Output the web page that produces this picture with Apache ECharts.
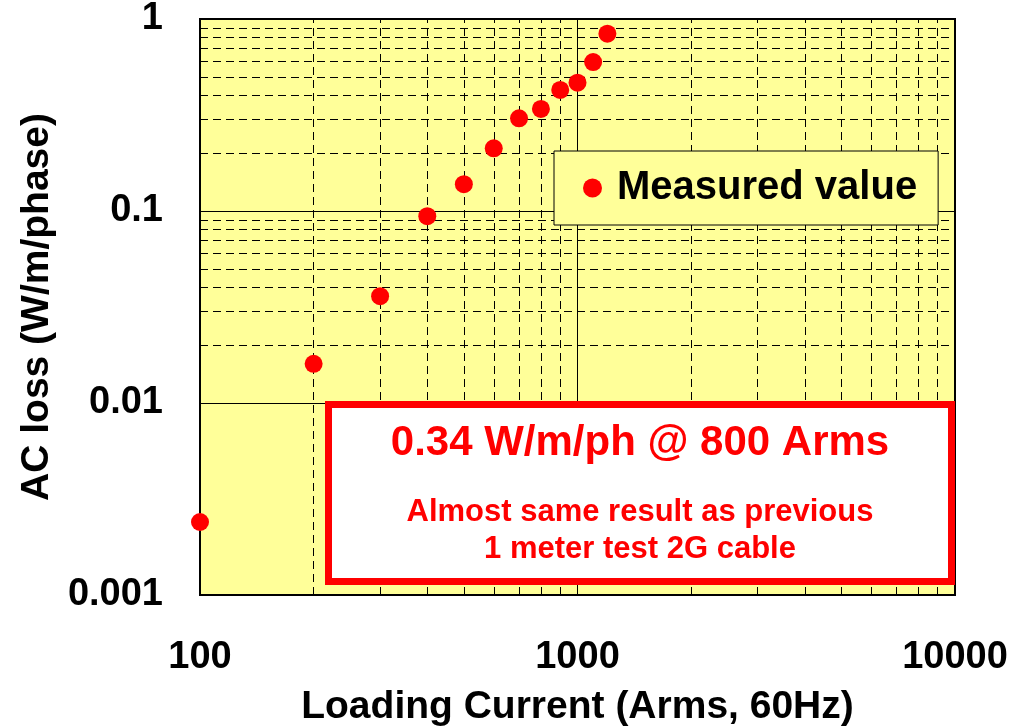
<!DOCTYPE html>
<html>
<head>
<meta charset="utf-8">
<script src="https://cdn.jsdelivr.net/npm/echarts@6/dist/echarts.min.js"></script>
<style>
  html, body { margin: 0; padding: 0; background: #fff; }
  #chartID { width: 1009px; height: 726px; }
</style>
</head>
<body>
<div id="chartID"></div>
<script>
// measured points
var loadCurrent = [100, 200, 300, 400, 500, 600, 700, 800, 900, 1000, 1100, 1200];
var acLoss = [0.0024, 0.016, 0.036, 0.094, 0.138, 0.212, 0.304, 0.34, 0.427, 0.466, 0.597, 0.838];

// tick labels of the two log axes
var xTickLabels = ['100', '1000', '10000'];
var yTickLabels = ['0.001', '0.01', '0.1', '1'];

// dashed minor grid lines (2..9 of each decade)
var xMinorLines = [200, 300, 400, 500, 600, 700, 800, 900, 2000, 3000, 4000, 5000, 6000, 7000, 8000, 9000];
var yMinorLines = [0.002, 0.003, 0.004, 0.005, 0.006, 0.007, 0.008, 0.009,
                   0.02, 0.03, 0.04, 0.05, 0.06, 0.07, 0.08, 0.09,
                   0.2, 0.3, 0.4, 0.5, 0.6, 0.7, 0.8, 0.9];

var FONT = '"Liberation Sans", Arial, sans-serif';

var myChart = echarts.init(document.getElementById('chartID'));

var points = [];
for (var i = 0; i < loadCurrent.length; i++) {
  points.push([loadCurrent[i], acLoss[i]]);
}

var minorData = [];
for (var i = 0; i < xMinorLines.length; i++) {
  minorData.push({ xAxis: xMinorLines[i] });
}
for (var i = 0; i < yMinorLines.length; i++) {
  minorData.push({ yAxis: yMinorLines[i] });
}

var option = {
  animation: false,
  backgroundColor: '#ffffff',
  grid: {
    left: 200,
    right: 54,
    top: 19,
    bottom: 131,
    containLabel: false,
    outerBoundsMode: 'none',
    show: true,
    backgroundColor: '#FFFF99',
    borderColor: '#000000',
    borderWidth: 2
  },
  legend: {
    data: ['Measured value'],
    left: 554,
    top: 151,
    z: 20,
    orient: 'horizontal',
    icon: 'circle',
    itemWidth: 19,
    itemHeight: 19,
    backgroundColor: '#FFFF99',
    borderColor: '#000000',
    borderWidth: 1,
    padding: [17, 21, 17, 29],
    textStyle: {
      fontFamily: FONT,
      fontWeight: 'bold',
      fontSize: 40,
      lineHeight: 39,
      color: '#000000',
      padding: [0, 0, 0, 10]
    }
  },
  xAxis: {
    type: 'log',
    logBase: 10,
    min: 100,
    max: 10000,
    name: 'Loading Current (Arms, 60Hz)',
    nameLocation: 'middle',
    nameGap: 93,
    nameTextStyle: { fontFamily: FONT, fontWeight: 'bold', fontSize: 39, color: '#000' },
    axisLine: { show: true, lineStyle: { color: '#000', width: 2 } },
    axisTick: { show: false },
    axisLabel: {
      margin: 44,
      fontFamily: FONT, fontWeight: 'bold', fontSize: 38, color: '#000',
      formatter: function (value, index) { return xTickLabels[index]; }
    },
    splitLine: { show: true, lineStyle: { color: '#000', width: 1, type: 'solid' } }
  },
  yAxis: {
    type: 'log',
    logBase: 10,
    min: 0.001,
    max: 1,
    name: 'AC loss (W/m/phase)',
    nameLocation: 'middle',
    nameGap: 142,
    nameTextStyle: { fontFamily: FONT, fontWeight: 'bold', fontSize: 39, color: '#000' },
    axisLine: { show: true, lineStyle: { color: '#000', width: 2 } },
    axisTick: { show: false },
    axisLabel: {
      margin: 37,
      fontFamily: FONT, fontWeight: 'bold', fontSize: 38, color: '#000',
      formatter: function (value, index) { return yTickLabels[index]; }
    },
    splitLine: { show: true, lineStyle: { color: '#000', width: 1, type: 'solid' } }
  },
  series: [
    {
      name: 'grid lines',
      type: 'line',
      data: [],
      z: 1,
      silent: true,
      markLine: {
        silent: true,
        z: 1,
        symbol: ['none', 'none'],
        label: { show: false },
        emphasis: { disabled: true },
        lineStyle: { color: '#000', width: 1, type: [8, 5], opacity: 1 },
        data: minorData
      }
    },
    {
      name: 'Measured value',
      type: 'scatter',
      data: points,
      symbol: 'circle',
      symbolSize: 18,
      clip: false,
      z: 5,
      itemStyle: { color: '#FF0000', opacity: 1 }
    }
  ],
  graphic: [
    {
      type: 'rect',
      z: 100,
      shape: { x: 328.5, y: 404.5, width: 623, height: 177 },
      style: { fill: '#ffffff', stroke: '#FF0000', lineWidth: 7 }
    },
    {
      type: 'text',
      z: 101,
      style: {
        x: 640, y: 443, text: '0.34 W/m/ph @ 800 Arms',
        textAlign: 'center', textVerticalAlign: 'middle',
        fontFamily: FONT, fontWeight: 'bold', fontSize: 42, fill: '#FF0000'
      }
    },
    {
      type: 'text',
      z: 101,
      style: {
        x: 640, y: 512, text: 'Almost same result as previous',
        textAlign: 'center', textVerticalAlign: 'middle',
        fontFamily: FONT, fontWeight: 'bold', fontSize: 31, fill: '#FF0000'
      }
    },
    {
      type: 'text',
      z: 101,
      style: {
        x: 640, y: 549, text: '1 meter test 2G cable',
        textAlign: 'center', textVerticalAlign: 'middle',
        fontFamily: FONT, fontWeight: 'bold', fontSize: 31, fill: '#FF0000'
      }
    }
  ]
};

myChart.setOption(option);
</script>
</body>
</html>
